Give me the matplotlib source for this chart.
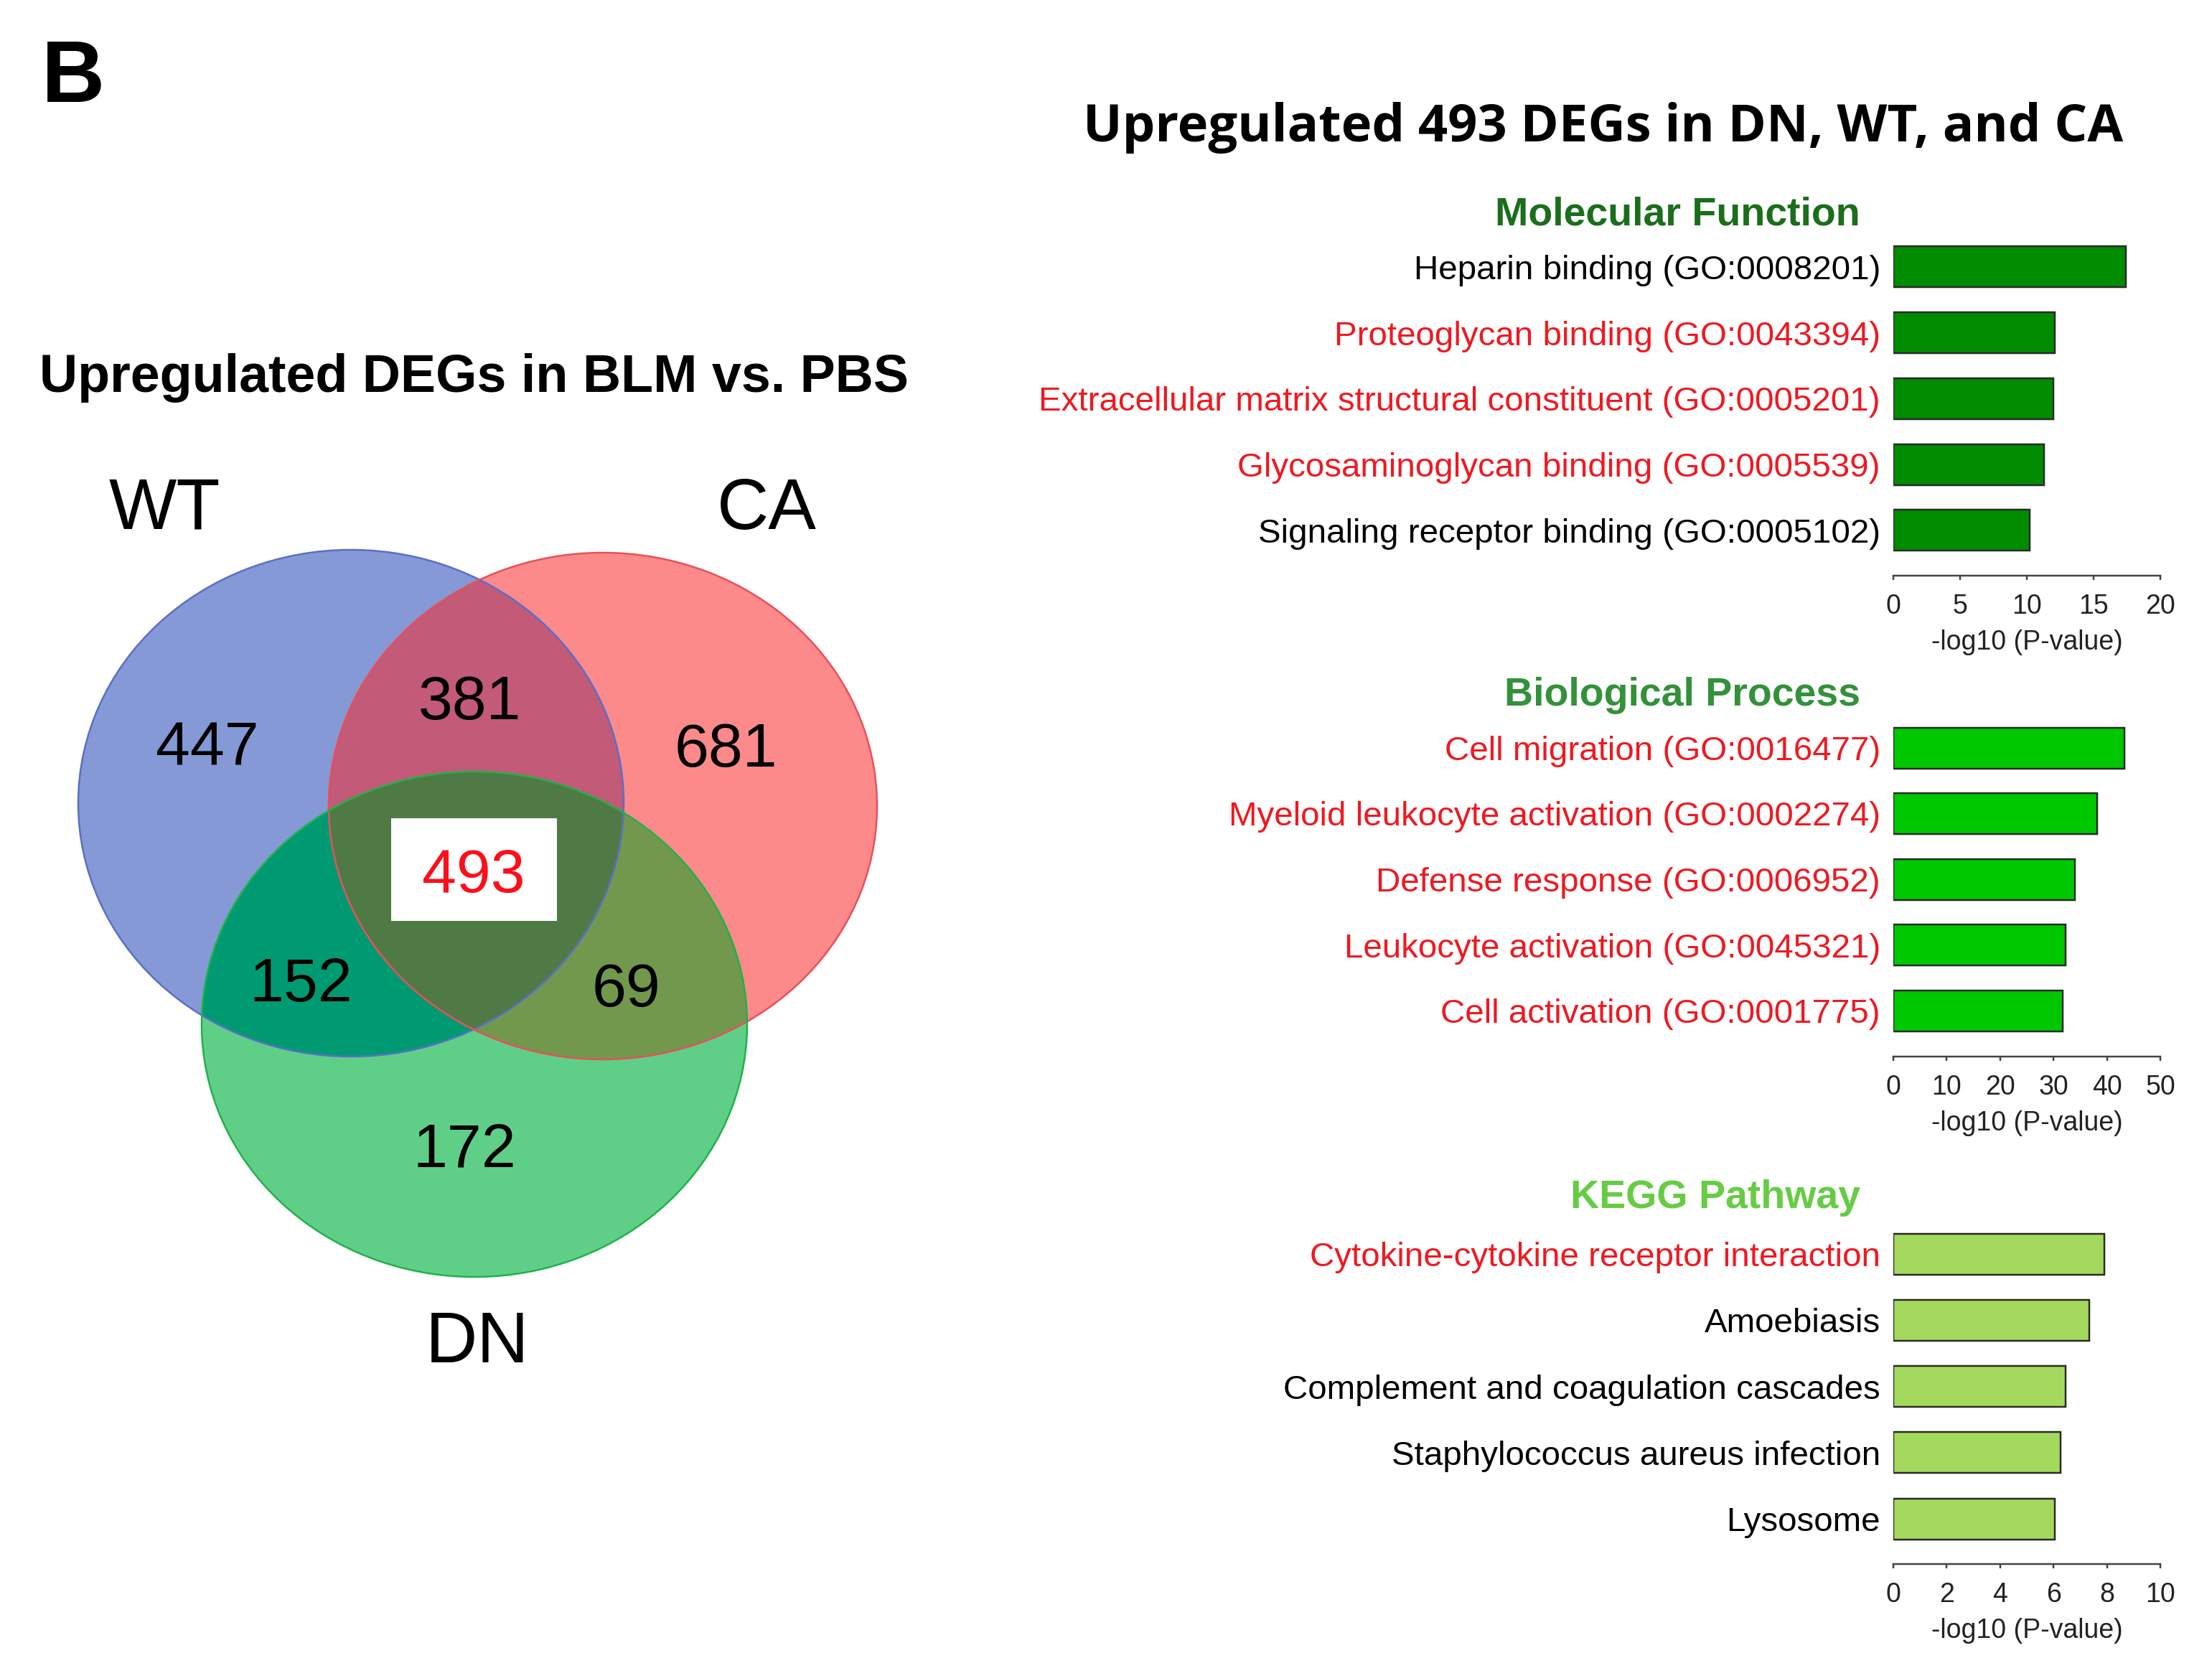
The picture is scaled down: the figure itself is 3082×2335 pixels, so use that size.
import numpy as np
import matplotlib
matplotlib.use("Agg")
import matplotlib.pyplot as plt
from matplotlib.patches import Ellipse, Rectangle

# ---------------- data ----------------
venn_set_names = ["WT", "CA", "DN"]
venn_regions = ["WT", "CA", "DN", "WT&CA", "WT&DN", "CA&DN", "WT&CA&DN"]
venn_counts = [447, 681, 172, 381, 152, 69, 493]

mf_terms = ["Heparin binding (GO:0008201)",
            "Proteoglycan binding (GO:0043394)",
            "Extracellular matrix structural constituent (GO:0005201)",
            "Glycosaminoglycan binding (GO:0005539)",
            "Signaling receptor binding (GO:0005102)"]
mf_values = [17.4, 12.1, 12.0, 11.3, 10.2]
mf_highlight = [False, True, True, True, False]
mf_ticks = [0, 5, 10, 15, 20]

bp_terms = ["Cell migration (GO:0016477)",
            "Myeloid leukocyte activation (GO:0002274)",
            "Defense response (GO:0006952)",
            "Leukocyte activation (GO:0045321)",
            "Cell activation (GO:0001775)"]
bp_values = [43.3, 38.2, 34.0, 32.3, 31.7]
bp_highlight = [True, True, True, True, True]
bp_ticks = [0, 10, 20, 30, 40, 50]

kegg_terms = ["Cytokine-cytokine receptor interaction",
              "Amoebiasis",
              "Complement and coagulation cascades",
              "Staphylococcus aureus infection",
              "Lysosome"]
kegg_values = [7.9, 7.35, 6.45, 6.25, 6.05]
kegg_highlight = [True, False, False, False, False]
kegg_ticks = [0, 2, 4, 6, 8, 10]

# ---------------- figure ----------------
W, H = 3082, 2335
PT = 72.0 / 100.0  # points per pixel
SANS = ["Liberation Sans", "DejaVu Sans"]

fig = plt.figure(figsize=(W / 100, H / 100), dpi=100)
bg = fig.add_axes([0, 0, 1, 1])
bg.set_xlim(0, W)
bg.set_ylim(H, 0)
bg.axis("off")

# ---------------- Venn diagram ----------------
ell = {  # centre x, centre y, semi-axis x, semi-axis y (pixels)
    "WT": (489, 1119, 380, 353),
    "CA": (840, 1123, 382, 353),
    "DN": (661, 1427, 380, 352),
}
region_colors = {
    "WT": "#8499d6", "CA": "#fd8a8a", "DN": "#5fcf88",
    "WT&CA": "#c25a78", "WT&DN": "#009a72", "CA&DN": "#72984e",
    "WT&CA&DN": "#4f7a45",
}
edge_colors = {"WT": "#5a6fc8", "CA": "#e8505a", "DN": "#1fb24a"}

x0, x1, y0, y1 = 90, 1250, 750, 1800
xs = np.arange(x0, x1) + 0.5
ys = np.arange(y0, y1) + 0.5
X, Y = np.meshgrid(xs, ys)
masks = {}
for k, (cx, cy, a, b) in ell.items():
    masks[k] = ((X - cx) / a) ** 2 + ((Y - cy) / b) ** 2 <= 1.0
img = np.zeros(X.shape + (4,))
for reg in venn_regions:
    members = reg.split("&")
    m = np.ones(X.shape, bool)
    for s in venn_set_names:
        m &= masks[s] if s in members else ~masks[s]
    img[m] = matplotlib.colors.to_rgba(region_colors[reg])
bg.imshow(img, extent=(x0, x1, y1, y0), origin="upper", interpolation="antialiased",
          zorder=1, aspect="auto")
bg.set_xlim(0, W)
bg.set_ylim(H, 0)
for k in venn_set_names:
    cx, cy, a, b = ell[k]
    bg.add_patch(Ellipse((cx, cy), 2 * a, 2 * b, fill=False,
                         edgecolor=edge_colors[k], lw=2.5 * PT, zorder=2))

# white box behind the shared count
bg.add_patch(Rectangle((545, 1140), 231, 143, facecolor="white", edgecolor="none", zorder=3))

count_pos = {
    "WT": (289, 1035), "CA": (1011, 1037), "DN": (647, 1594),
    "WT&CA": (655, 971), "WT&DN": (419, 1364), "CA&DN": (873, 1371),
    "WT&CA&DN": (660, 1212),
}
for reg, cnt in zip(venn_regions, venn_counts):
    x, y = count_pos[reg]
    bg.text(x, y, str(cnt), ha="center", va="center_baseline", family=SANS,
            fontsize=62, color="#ff0d1a" if reg == "WT&CA&DN" else "black", zorder=4)

label_pos = {"WT": (229, 700), "CA": (1068, 700), "DN": (665, 1862)}
for s in venn_set_names:
    x, y = label_pos[s]
    bg.text(x, y, s, ha="center", va="center_baseline", family=SANS, fontsize=72,
            color="black", zorder=4)

bg.text(661, 519, "Upregulated DEGs in BLM vs. PBS", ha="center", va="center_baseline",
        family=SANS, fontweight="bold", fontsize=53, color="black")
bg.text(58, 97, "B", ha="left", va="center_baseline", family=SANS, fontweight="bold",
        fontsize=88, color="black")

# ---------------- bar panels ----------------
bg.text(2234, 170, "Upregulated 493 DEGs in DN, WT, and CA", ha="center",
        va="center_baseline", family=["Open Sans", "DejaVu Sans"], fontweight="bold",
        fontsize=52, color="black")

AX_L, AX_R = 2638, 3010
RED = "#f01820"


def panel(terms, values, highlight, ticks, c0, pitch, axis_y, color, title, title_y,
          title_color):
    top_px = c0 - 0.6 * pitch
    ax = fig.add_axes([AX_L / W, 1 - axis_y / H, (AX_R - AX_L) / W, (axis_y - top_px) / H])
    ypos = np.arange(len(terms))
    ax.barh(ypos, values, height=57 / pitch, color=color, edgecolor="#2a2a2a",
            linewidth=2.5 * PT, zorder=3)
    ax.set_xlim(ticks[0], ticks[-1])
    ax.set_ylim((axis_y - c0) / pitch, -0.6)
    ax.set_yticks(ypos)
    ax.set_yticklabels(terms, family=SANS, fontsize=34.2)
    for lab, hl in zip(ax.get_yticklabels(), highlight):
        lab.set_color(RED if hl else "black")
    ax.set_xticks(ticks)
    ax.set_xticklabels([str(t) for t in ticks], family=SANS, fontsize=27, color="#222222")
    ax.tick_params(axis="y", length=0, pad=18 * PT)
    ax.tick_params(axis="x", length=6 * PT, width=2.5 * PT, color="#444444",
                   direction="out", pad=19 * PT)
    for sp in ["left", "right", "top"]:
        ax.spines[sp].set_visible(False)
    ax.spines["bottom"].set_color("#444444")
    ax.spines["bottom"].set_linewidth(2.5 * PT)
    ax.set_facecolor("none")
    ax.set_xlabel("-log10 (P-value)", family=SANS, fontsize=27, color="#222222",
                  labelpad=14 * PT)
    fig.text(2592 / W, 1 - title_y / H, title, ha="right", va="center_baseline",
             family=SANS, fontweight="bold", fontsize=40, color=title_color)
    return ax


panel(mf_terms, mf_values, mf_highlight, mf_ticks, 372, 91.75, 802, "#008c00",
      "Molecular Function", 293, "#1b6e1b")
panel(bp_terms, bp_values, bp_highlight, bp_ticks, 1042, 91.5, 1472, "#00c800",
      "Biological Process", 963, "#33913a")
panel(kegg_terms, kegg_values, kegg_highlight, kegg_ticks, 1747, 92.25, 2179, "#a5d95d",
      "KEGG Pathway", 1663, "#66cc44")

fig.savefig("out.png", dpi=100, facecolor="white")
